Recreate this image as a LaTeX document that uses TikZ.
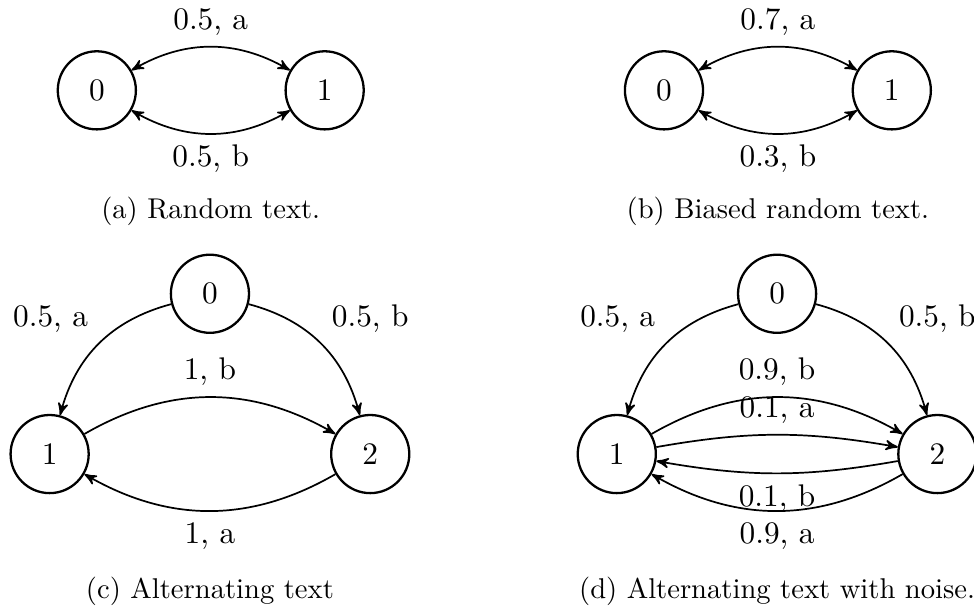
\documentclass[tikz,border=0pt,11pt]{standalone}
\usetikzlibrary{arrows}

\tikzset{
  state/.style={circle, draw, thick, minimum size=0.96cm, inner sep=0pt},
  trans/.style={->, >=stealth', semithick},
  subcap/.style={font=\small}
}

\begin{document}
\begin{tikzpicture}
\useasboundingbox (0,0) rectangle (11.97,-7.49);

\begin{scope}[shift={(0, 0)}]
        % states of (a)
        \node[state] (A0) at (1.19, -1.11) {0};
        \node[state] (A1) at (3.99, -1.11) {1};

        % transitions of (a)
        \draw[trans, <->] (A0) to[bend left] node[above] {0.5, a} (A1);
        \draw[trans, <->] (A0) to[bend right] node[below] {0.5, b} (A1);

        \node[subcap] (capA) at (2.59, -2.60) {(a) Random text.};
\end{scope}

\begin{scope}[shift={(6.97, 0)}]
        % states of (b)
        \node[state] (B0) at (1.19, -1.11) {0};
        \node[state] (B1) at (3.99, -1.11) {1};

        % transitions of (b)
        \draw[trans, <->] (B0) to[bend left] node[above] {0.7, a} (B1);
        \draw[trans, <->] (B0) to[bend right] node[below] {0.3, b} (B1);

        \node[subcap] (capB) at (2.59, -2.60) {(b) Biased random text.};
\end{scope}

\begin{scope}[shift={(0, 0)}]
        % states of (c)
        \node[state] (C0) at (2.58, -3.61) {0};
        \node[state] (C1) at (0.61, -5.58) {1};
        \node[state] (C2) at (4.55, -5.58) {2};

        % transitions of (c)
        \draw[trans] (C0) to[bend right] node[above left] {0.5, a} (C1);
        \draw[trans] (C0) to[bend left] node[above right] {0.5, b} (C2);
        \draw[trans] (C1) to[bend left] node[above] {1, b} (C2);
        \draw[trans] (C2) to[bend left] node[below] {1, a} (C1);

        \node[subcap] (capC) at (2.58, -7.27) {(c) Alternating text};
\end{scope}

\begin{scope}[shift={(6.97, 0)}]
        % states of (d)
        \node[state] (D0) at (2.58, -3.61) {0};
        \node[state] (D1) at (0.61, -5.58) {1};
        \node[state] (D2) at (4.55, -5.58) {2};

        % transitions of (d)
        \draw[trans] (D0) to[bend right] node[above left] {0.5, a} (D1);
        \draw[trans] (D0) to[bend left] node[above right] {0.5, b} (D2);
        \draw[trans] (D1) to[bend left] node[above] {0.9, b} (D2);
        \draw[trans] (D1) to[bend left=10] node[above] {0.1, a} (D2);
        \draw[trans] (D2) to[bend left=10] node[below] {0.1, b} (D1);
        \draw[trans] (D2) to[bend left] node[below] {0.9, a} (D1);

        \node[subcap] (capD) at (2.58, -7.27) {(d) Alternating text with noise.};
\end{scope}
\end{tikzpicture}
\end{document}
